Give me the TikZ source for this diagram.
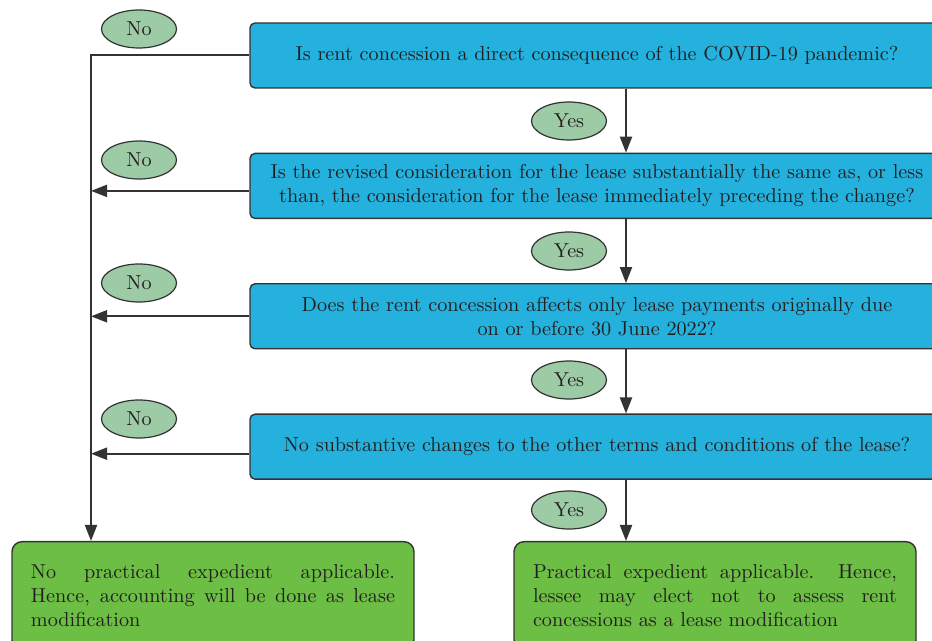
\documentclass[tikz,border=0pt]{standalone}
\usepackage{xcolor}
\usepackage{tikz}
\usetikzlibrary{arrows.meta,positioning,shapes.geometric}
\definecolor{LeaseBlue}{HTML}{25B1DD}
\definecolor{LeaseGreen}{HTML}{6DBE45}
\definecolor{LeaseSage}{HTML}{9DCBA6}
\definecolor{LeaseInk}{HTML}{231F20}
\definecolor{LeaseRule}{HTML}{333333}
\newcommand{\leaseFont}{\fontsize{10.1}{12}\selectfont}

\begin{document}
\begin{tikzpicture}[x=0.5pt,y=-0.5pt,
  question/.style={draw=LeaseRule,line width=0.7pt,rounded corners=2.5pt,fill=LeaseBlue,minimum width=347pt,minimum height=32.5pt,align=center,text=LeaseInk,font=\leaseFont},
  outcome/.style={draw=LeaseRule,line width=0.7pt,rounded corners=5pt,fill=LeaseGreen,text width=182pt,inner xsep=9.5pt,inner ysep=10pt,minimum height=54pt,align=justify,anchor=north,text=LeaseInk,font=\leaseFont},
  tag/.style={ellipse,draw=LeaseRule,line width=0.6pt,fill=LeaseSage,minimum width=37.5pt,minimum height=19pt,inner sep=0pt,text=LeaseInk,font=\leaseFont},
  edge/.style={-{Triangle[length=8pt,width=6pt]},draw=LeaseRule,line width=1pt}
]
\useasboundingbox (0,0) rectangle (932,641);
\coordinate (rail) at (91,0);
\coordinate (drop) at (626,0);
\node[question] (covid) at (597,55.5) {Is rent concession a direct consequence of the COVID-19 pandemic?};
\node[question,below=32pt of covid] (consid) {Is the revised consideration for the lease substantially the same as, or less\\than, the consideration for the lease immediately preceding the change?};
\node[question,below=32pt of consid] (duedate) {Does the rent concession affects only lease payments originally due\\on or before 30 June 2022?};
\node[question,below=32pt of duedate] (terms) {No substantive changes to the other terms and conditions of the lease?};
\node[outcome] (noexp) at (213,541) {No practical expedient applicable.\linebreak Hence, accounting will be done as lease\linebreak modification};
\node[outcome] (expd) at (715,541) {Practical expedient applicable. Hence,\linebreak lessee may elect not to assess rent\linebreak concessions as a lease modification};
\node[tag] (nocovid) at (139,29) {No};
\node[tag] (noconsid) at (139,160) {No};
\node[tag] (noduedate) at (139,283) {No};
\node[tag] (noterms) at (139,419) {No};
\node[tag] (yescovid) at (569,121) {Yes};
\node[tag] (yesconsid) at (569,251) {Yes};
\node[tag] (yesduedate) at (569,380) {Yes};
\node[tag] (yesterms) at (569,510) {Yes};
\draw[edge] (covid.west) -- (covid.west -| rail) -- (noexp.north -| rail);
\draw[edge] ([yshift=-2.5pt]consid.west) -- ([yshift=-2.5pt]consid.west -| rail);
\draw[edge] (duedate.west) -- (duedate.west -| rail);
\draw[edge] ([yshift=-3.5pt]terms.west) -- ([yshift=-3.5pt]terms.west -| rail);
\draw[edge] (covid.south -| drop) -- (consid.north -| drop);
\draw[edge] (consid.south -| drop) -- (duedate.north -| drop);
\draw[edge] (duedate.south -| drop) -- (terms.north -| drop);
\draw[edge] (terms.south -| drop) -- (expd.north -| drop);
\end{tikzpicture}
\end{document}
